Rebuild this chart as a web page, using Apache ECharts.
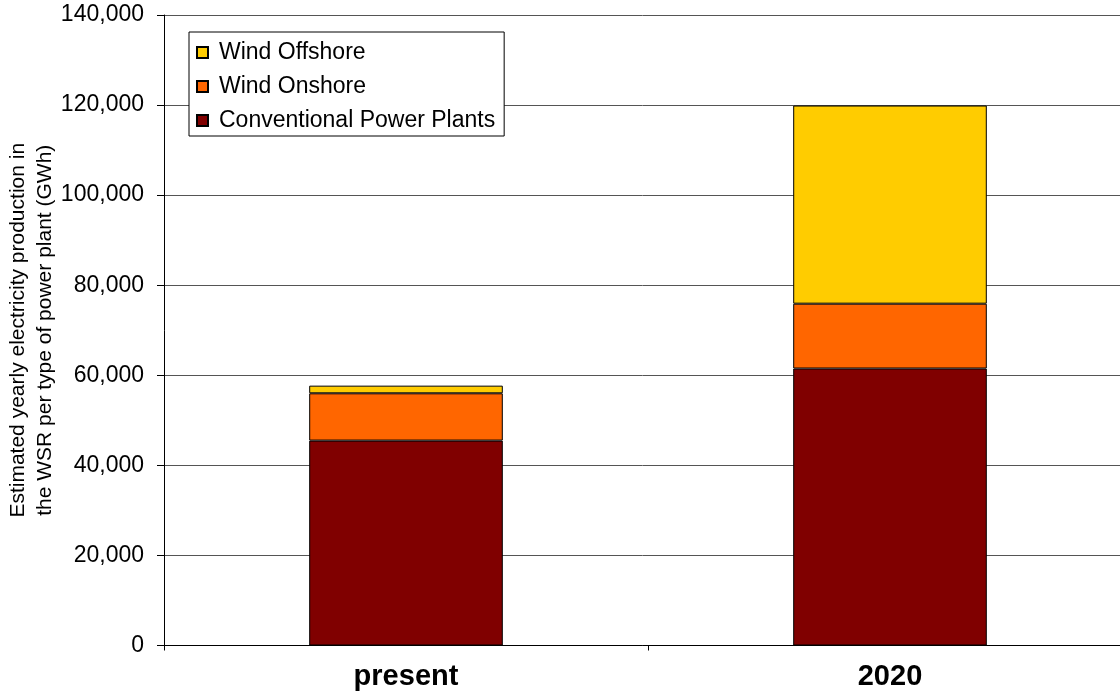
<!DOCTYPE html>
<html>
<head>
<meta charset="utf-8">
<script src="https://cdn.jsdelivr.net/npm/echarts@6/dist/echarts.min.js"></script>
<style>
  html, body { margin: 0; padding: 0; background: #fff; }
  #chart { width: 1120px; height: 694px; }
</style>
</head>
<body>
<div id="chart"></div>
<script>
// Categories and stacked production per plant type (GWh)
const categories = ['present', '2020'];
const conventional = [45500, 61500];
const windOnshore = [10500, 14400];
const windOffshore = [1700, 44000];
const yTicks = { min: 0, max: 140000, step: 20000 };

const FONT = '"Liberation Sans", Arial, sans-serif';
const colors = {
  conventional: '#800000',
  onshore: '#FF6600',
  offshore: '#FFCC00'
};

function fmt(v) {
  return String(v).replace(/\B(?=(\d{3})+(?!\d))/g, ',');
}

const barStyle = (c) => ({ color: c, borderColor: '#000', borderWidth: 1 });

const chart = echarts.init(document.getElementById('chart'), null, { renderer: 'canvas' });
chart.setOption({
  animation: false,
  backgroundColor: '#fff',
  textStyle: { fontFamily: FONT },
  grid: { left: 164, top: 15, width: 968, height: 630.5, containLabel: false, outerBoundsMode: 'none' },
  legend: {
    orient: 'vertical',
    left: 189,
    top: 32,
    data: ['Wind Offshore', 'Wind Onshore', 'Conventional Power Plants'],
    icon: 'rect',
    itemWidth: 11,
    itemHeight: 11,
    itemGap: 11,
    padding: [9, 9, 4, 7],
    backgroundColor: '#fff',
    borderColor: '#000',
    borderWidth: 1,
    borderRadius: 0,
    textStyle: { fontFamily: FONT, fontSize: 23, color: '#000', lineHeight: 22, padding: [0, 0, 0, 6] }
  },
  xAxis: {
    type: 'category',
    data: categories,
    axisLine: { lineStyle: { color: '#000', width: 1 } },
    axisTick: { show: true, length: 5, lineStyle: { color: '#000' } },
    axisLabel: { fontFamily: FONT, fontSize: 29, fontWeight: 'bold', color: '#000', margin: 17 },
    splitLine: { show: false }
  },
  yAxis: {
    type: 'value',
    min: yTicks.min,
    max: yTicks.max,
    interval: yTicks.step,
    name: 'Estimated yearly electricity production in\nthe WSR per type of power plant (GWh)',
    nameLocation: 'middle',
    nameRotate: 90,
    nameGap: 105,
    nameMoveOverlap: false,
    nameTruncate: { maxWidth: 380, ellipsis: '' },
    nameTextStyle: { fontFamily: FONT, fontSize: 21, color: '#000', lineHeight: 27, width: 380, overflow: 'truncate', ellipsis: '' },
    axisLine: { show: true, lineStyle: { color: '#000', width: 1 } },
    axisTick: { show: true, length: 7, lineStyle: { color: '#000' } },
    axisLabel: { fontFamily: FONT, fontSize: 23, color: '#000', margin: 20, formatter: fmt },
    splitLine: { show: true, lineStyle: { color: '#555', width: 1 } }
  },
  series: [
    { name: 'Conventional Power Plants', type: 'bar', stack: 'total', barWidth: '40%', data: conventional, itemStyle: barStyle(colors.conventional) },
    { name: 'Wind Onshore', type: 'bar', stack: 'total', barWidth: '40%', data: windOnshore, itemStyle: barStyle(colors.onshore) },
    { name: 'Wind Offshore', type: 'bar', stack: 'total', barWidth: '40%', data: windOffshore, itemStyle: barStyle(colors.offshore) }
  ]
});
</script>
</body>
</html>
